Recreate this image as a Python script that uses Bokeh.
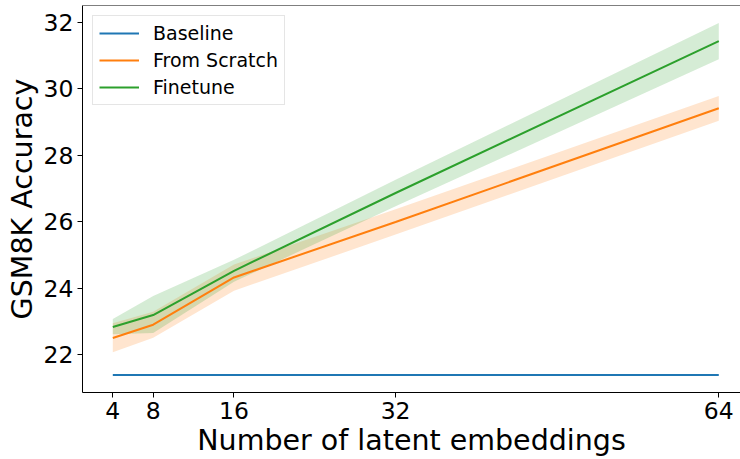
from bokeh.plotting import figure
from bokeh.models import Range1d, Legend, LegendItem, Span, FixedTicker
from bokeh.embed import file_html
from bokeh.resources import INLINE

# ---- data ----
x_vals = [4, 8, 16, 32, 64]
x_ticks = [4, 8, 16, 32, 64]
y_ticks = [22, 24, 26, 28, 30, 32]

baseline = [21.4, 21.4, 21.4, 21.4, 21.4]

scratch_mean = [22.51, 22.91, 24.33, 26.00, 29.42]
scratch_low = [22.08, 22.52, 23.93, 25.62, 29.04]
scratch_high = [22.95, 23.30, 24.72, 26.38, 29.79]

finetune_mean = [22.84, 23.20, 24.53, 26.87, 31.44]
finetune_low = [22.62, 22.66, 24.20, 26.47, 30.89]
finetune_high = [23.08, 23.77, 24.86, 27.27, 31.98]

series_names = ["Baseline", "From Scratch", "Finetune"]
colors = ["#1f77b4", "#ff7f0e", "#2ca02c"]

# ---- figure ----
Y0, Y1 = 20.87, 32.51
p = figure(width=740, height=459, output_backend="svg", toolbar_location=None,
           x_range=Range1d(1.0, 66.15), y_range=Range1d(Y0, Y1),
           min_border_left=82, min_border_right=0, min_border_top=5, min_border_bottom=66)
p.background_fill_color = "white"
p.border_fill_color = "white"
p.outline_line_color = None
p.xgrid.visible = False
p.ygrid.visible = False

# bands
p.varea(x=x_vals, y1=scratch_low, y2=scratch_high, fill_color=colors[1], fill_alpha=0.2)
p.varea(x=x_vals, y1=finetune_low, y2=finetune_high, fill_color=colors[2], fill_alpha=0.2)

# lines
r0 = p.line(x_vals, baseline, line_color=colors[0], line_width=2)
r1 = p.line(x_vals, scratch_mean, line_color=colors[1], line_width=2)
r2 = p.line(x_vals, finetune_mean, line_color=colors[2], line_width=2)

# top spine
p.add_layout(Span(location=Y1, dimension="width", line_color="black", line_width=1))

# axes
for ax in (p.xaxis[0], p.yaxis[0]):
    ax.axis_line_color = "black"
    ax.axis_line_width = 1
    ax.major_tick_line_color = "black"
    ax.major_tick_out = 5
    ax.major_tick_in = 0
    ax.minor_tick_line_color = None
    ax.major_label_text_font = "DejaVu Sans"
    ax.major_label_text_font_size = "23.5px"
    ax.major_label_text_color = "black"
    ax.axis_label_text_font = "DejaVu Sans"
    ax.axis_label_text_font_size = "28.5px"
    ax.axis_label_text_font_style = "normal"
    ax.axis_label_text_color = "black"
    ax.major_label_standoff = 4

p.xaxis[0].ticker = FixedTicker(ticks=x_ticks)
p.yaxis[0].ticker = FixedTicker(ticks=y_ticks)
p.xaxis[0].axis_label = "Number of latent embeddings"
p.yaxis[0].axis_label = "GSM8K Accuracy"
p.xaxis[0].axis_label_standoff = 2
p.yaxis[0].axis_label_standoff = 2

legend = Legend(items=[LegendItem(label=series_names[0], renderers=[r0]),
                       LegendItem(label=series_names[1], renderers=[r1]),
                       LegendItem(label=series_names[2], renderers=[r2])],
                location="top_left")
legend.margin = 10
legend.padding = 6
legend.spacing = 5
legend.glyph_width = 40
legend.glyph_height = 20
legend.label_height = 20
legend.label_standoff = 14
legend.label_text_font = "DejaVu Sans"
legend.label_text_font_size = "19px"
legend.label_text_color = "black"
legend.border_line_color = "#cccccc"
legend.border_line_width = 1
legend.background_fill_color = "white"
legend.background_fill_alpha = 0.8
p.add_layout(legend)

open("out.html", "w").write(file_html(p, INLINE))
